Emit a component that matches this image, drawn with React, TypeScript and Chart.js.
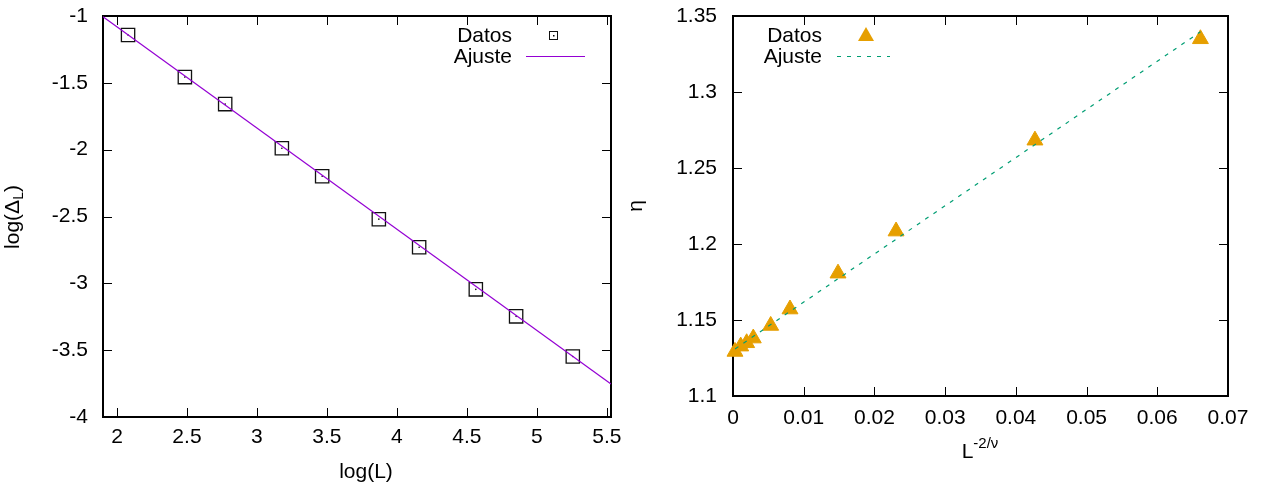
import React, { useEffect, useRef } from "react";
import { Chart, registerables } from "chart.js";

Chart.register(...registerables);

// ---------- Left panel: log(Δ_L) vs log(L) ----------
const logL = [2.079, 2.485, 2.773, 3.178, 3.466, 3.871, 4.159, 4.564, 4.852, 5.257];
const logDelta = [-1.142, -1.457, -1.659, -1.989, -2.199, -2.52, -2.73, -3.045, -3.247, -3.547];
const fitLeftX = [1.9, 5.53];
const fitLeftY = [-1.005, -3.753];
const leftXTicks = [2, 2.5, 3, 3.5, 4, 4.5, 5, 5.5];
const leftYTicks = [-4, -3.5, -3, -2.5, -2, -1.5, -1];

// ---------- Right panel: η vs L^{-2/ν} ----------
const invL = [0.00028, 0.00109, 0.00193, 0.00287, 0.00533, 0.00806, 0.01485, 0.02306, 0.0427, 0.0661];
const eta = [1.1292, 1.1327, 1.1349, 1.138, 1.1463, 1.1571, 1.1807, 1.2084, 1.2682, 1.3349];
const fitRightX = [0.0003, 0.0661];
const fitRightY = [1.131, 1.3396];
const rightXTicks = [0, 0.01, 0.02, 0.03, 0.04, 0.05, 0.06, 0.07];
const rightYTicks = [1.1, 1.15, 1.2, 1.25, 1.3, 1.35];

const W = 1263;
const H = 486;
const FONT = "'Liberation Sans', Arial, Helvetica, sans-serif";
const FS = 21;
const PURPLE = "#9400d3";
const ORANGE = "#e69f00";
const TEAL = "#009e73";

type Part = { t: string; size: number; dy: number };

function drawRich(ctx: CanvasRenderingContext2D, parts: Part[], x: number, y: number, align: "center" | "right") {
  ctx.textAlign = "left";
  ctx.textBaseline = "alphabetic";
  let total = 0;
  const widths: number[] = [];
  for (const p of parts) {
    ctx.font = `${p.size}px ${FONT}`;
    const w = ctx.measureText(p.t).width;
    widths.push(w);
    total += w;
  }
  let cx = align === "center" ? x - total / 2 : x - total;
  parts.forEach((p, i) => {
    ctx.font = `${p.size}px ${FONT}`;
    ctx.fillText(p.t, cx, y + p.dy);
    cx += widths[i];
  });
}

const fmt = (v: number) => String(parseFloat(Number(v).toFixed(4)));

type PanelCfg = {
  area: { left: number; right: number; top: number; bottom: number };
  yAxisWidth: number;
  xRange: [number, number];
  yRange: [number, number];
  xTicks: number[];
  yTicks: number[];
  xPad: number;
  yPad: number;
  datasets: any[];
  extra: (ctx: CanvasRenderingContext2D) => void;
};

function buildConfig(cfg: PanelCfg): any {
  const framePlugin = {
    id: "gnuframe",
    beforeDatasetsDraw(chart: any) {
      const { ctx, chartArea: a, scales } = chart;
      const xs = scales.x;
      const ys = scales.y;
      const tl = 9;
      ctx.save();
      ctx.strokeStyle = "#000";
      ctx.lineWidth = 1;
      ctx.beginPath();
      for (const v of cfg.xTicks) {
        const px = Math.round(xs.getPixelForValue(v)) + 0.5;
        ctx.moveTo(px, a.bottom);
        ctx.lineTo(px, a.bottom - tl);
        ctx.moveTo(px, a.top);
        ctx.lineTo(px, a.top + tl);
      }
      for (const v of cfg.yTicks) {
        const py = Math.round(ys.getPixelForValue(v)) + 0.5;
        ctx.moveTo(a.left, py);
        ctx.lineTo(a.left + tl, py);
        ctx.moveTo(a.right, py);
        ctx.lineTo(a.right - tl, py);
      }
      ctx.stroke();
      ctx.lineWidth = 2;
      ctx.strokeRect(a.left, a.top, a.right - a.left, a.bottom - a.top);
      ctx.restore();
    },
    afterDraw(chart: any) {
      const ctx = chart.ctx as CanvasRenderingContext2D;
      ctx.save();
      ctx.fillStyle = "#000";
      cfg.extra(ctx);
      ctx.restore();
    },
  };

  return {
    type: "scatter",
    data: { datasets: cfg.datasets },
    options: {
      animation: false,
      responsive: false,
      events: [],
      layout: {
        padding: {
          left: cfg.area.left - cfg.yAxisWidth,
          right: W - cfg.area.right,
          top: cfg.area.top,
          bottom: 0,
        },
      },
      plugins: { legend: { display: false }, tooltip: { enabled: false }, title: { display: false } },
      scales: {
        x: {
          type: "linear",
          min: cfg.xRange[0],
          max: cfg.xRange[1],
          border: { display: false },
          grid: { display: false, drawTicks: false, tickLength: 0 },
          afterBuildTicks: (s: any) => {
            s.ticks = cfg.xTicks.map((v) => ({ value: v }));
          },
          afterFit: (s: any) => {
            s.height = H - cfg.area.bottom;
            s.paddingLeft = 0;
            s.paddingRight = 0;
          },
          ticks: {
            color: "#000",
            font: { family: FONT, size: FS },
            padding: cfg.xPad,
            maxRotation: 0,
            autoSkip: false,
            callback: (v: any) => fmt(v),
          },
        },
        y: {
          type: "linear",
          min: cfg.yRange[0],
          max: cfg.yRange[1],
          border: { display: false },
          grid: { display: false, drawTicks: false, tickLength: 0 },
          afterBuildTicks: (s: any) => {
            s.ticks = cfg.yTicks.map((v) => ({ value: v }));
          },
          afterFit: (s: any) => {
            s.width = cfg.yAxisWidth;
            s.paddingTop = 0;
            s.paddingBottom = 0;
          },
          ticks: {
            color: "#000",
            font: { family: FONT, size: FS },
            padding: cfg.yPad,
            autoSkip: false,
            callback: (v: any) => fmt(v),
          },
        },
      },
    },
    plugins: [framePlugin],
  };
}

const leftCfg: PanelCfg = {
  area: { left: 103, right: 611, top: 16, bottom: 417 },
  yAxisWidth: 103,
  xRange: [1.9, 5.53],
  yRange: [-4, -1],
  xTicks: leftXTicks,
  yTicks: leftYTicks,
  xPad: 8,
  yPad: 15,
  datasets: [
    {
      label: "Ajuste",
      data: fitLeftX.map((x, i) => ({ x, y: fitLeftY[i] })),
      showLine: true,
      borderColor: PURPLE,
      borderWidth: 1.2,
      pointRadius: 0,
      order: 0,
    },
    {
      label: "Datos",
      data: logL.map((x, i) => ({ x, y: logDelta[i] })),
      pointStyle: "rect",
      pointRadius: 9.4,
      borderColor: "#111",
      borderWidth: 1.3,
      backgroundColor: "rgba(0,0,0,0)",
      clip: false,
      order: 1,
    },
    {
      label: "Datos-center",
      data: logL.map((x, i) => ({ x, y: logDelta[i] })),
      pointStyle: "circle",
      pointRadius: 0.8,
      borderWidth: 0,
      backgroundColor: "#000",
      clip: false,
      order: 2,
    },
  ],
  extra: (ctx) => {
    // legend
    ctx.font = `${FS}px ${FONT}`;
    ctx.textAlign = "right";
    ctx.textBaseline = "middle";
    ctx.fillText("Datos", 512, 36);
    ctx.fillText("Ajuste", 512, 57);
    ctx.strokeStyle = "#111";
    ctx.lineWidth = 1;
    ctx.strokeRect(549.5, 31.5, 8, 8);
    ctx.fillRect(553, 35, 1.5, 1.5);
    ctx.strokeStyle = PURPLE;
    ctx.lineWidth = 1.2;
    ctx.beginPath();
    ctx.moveTo(526, 56.5);
    ctx.lineTo(585, 56.5);
    ctx.stroke();
    // x title
    drawRich(ctx, [{ t: "log(L)", size: FS, dy: 0 }], 366, 478, "center");
    // y title (rotated)
    ctx.save();
    ctx.translate(18.5, 217);
    ctx.rotate(-Math.PI / 2);
    drawRich(
      ctx,
      [
        { t: "log(Δ", size: FS, dy: 0 },
        { t: "L", size: 14, dy: 4 },
        { t: ")", size: FS, dy: 0 },
      ],
      0,
      0,
      "center"
    );
    ctx.restore();
  },
};

const rightCfg: PanelCfg = {
  area: { left: 733, right: 1228, top: 16, bottom: 396 },
  yAxisWidth: 60,
  xRange: [0, 0.07],
  yRange: [1.1, 1.35],
  xTicks: rightXTicks,
  yTicks: rightYTicks,
  xPad: 10,
  yPad: 16,
  datasets: [
    {
      label: "Ajuste",
      data: fitRightX.map((x, i) => ({ x, y: fitRightY[i] })),
      showLine: true,
      borderColor: TEAL,
      borderWidth: 1.2,
      borderDash: [4, 6],
      pointRadius: 0,
      order: 0,
    },
    {
      label: "Datos",
      data: invL.map((x, i) => ({ x, y: eta[i] })),
      pointStyle: "triangle",
      pointRadius: 9.2,
      borderColor: ORANGE,
      borderWidth: 1,
      backgroundColor: ORANGE,
      clip: false,
      order: 1,
    },
  ],
  extra: (ctx) => {
    ctx.font = `${FS}px ${FONT}`;
    ctx.textAlign = "right";
    ctx.textBaseline = "middle";
    ctx.fillText("Datos", 822, 36);
    ctx.fillText("Ajuste", 822, 57);
    ctx.fillStyle = ORANGE;
    ctx.beginPath();
    ctx.moveTo(866, 27);
    ctx.lineTo(874, 41);
    ctx.lineTo(858, 41);
    ctx.closePath();
    ctx.fill();
    ctx.strokeStyle = TEAL;
    ctx.lineWidth = 1.2;
    ctx.setLineDash([4, 6]);
    ctx.beginPath();
    ctx.moveTo(837, 56.5);
    ctx.lineTo(890, 56.5);
    ctx.stroke();
    ctx.setLineDash([]);
    ctx.fillStyle = "#000";
    // x title with superscript
    drawRich(
      ctx,
      [
        { t: "L", size: FS, dy: 0 },
        { t: "-2/ν", size: 15, dy: -10 },
      ],
      980,
      458,
      "center"
    );
    // y title
    ctx.save();
    ctx.translate(642, 206);
    ctx.rotate(-Math.PI / 2);
    drawRich(ctx, [{ t: "η", size: FS, dy: 0 }], 0, 0, "center");
    ctx.restore();
  },
};

function Panel({ cfg }: { cfg: PanelCfg }) {
  const ref = useRef<HTMLCanvasElement | null>(null);
  useEffect(() => {
    if (!ref.current) return;
    const chart = new Chart(ref.current, buildConfig(cfg));
    return () => chart.destroy();
  }, [cfg]);
  return (
    <canvas
      ref={ref}
      width={W}
      height={H}
      style={{ position: "absolute", left: 0, top: 0, width: W, height: H }}
    />
  );
}

export default function App() {
  return (
    <div style={{ position: "fixed", left: 0, top: 0, width: W, height: H, background: "#fff", overflow: "hidden" }}>
      <Panel cfg={leftCfg} />
      <Panel cfg={rightCfg} />
    </div>
  );
}
